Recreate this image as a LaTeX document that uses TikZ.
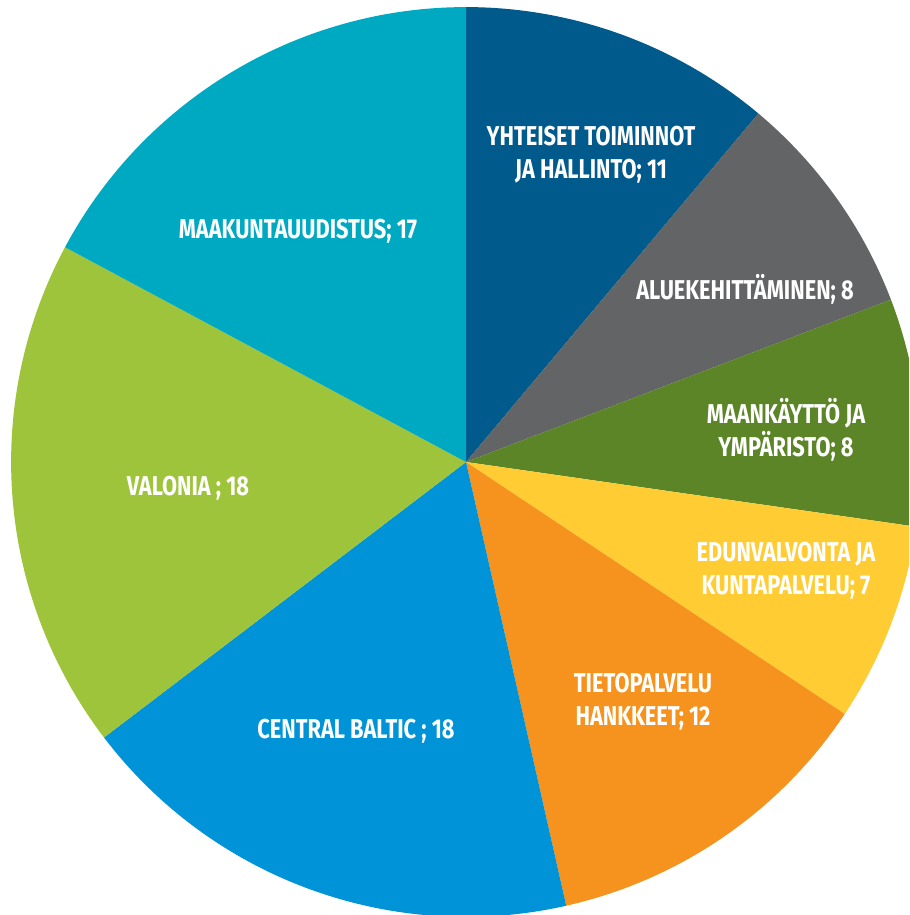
\documentclass[tikz,border=0pt]{standalone}
\usepackage{fontspec}
\setmainfont{Fira Sans}[FakeStretch=0.8]
\usepackage{tikz}
\definecolor{yhteiset}{HTML}{005A8C}
\definecolor{alue}{HTML}{636466}
\definecolor{maankaytto}{HTML}{5B8527}
\definecolor{edunv}{HTML}{FFCD33}
\definecolor{tieto}{HTML}{F6931E}
\definecolor{central}{HTML}{0093D7}
\definecolor{valonia}{HTML}{9EC43B}
\definecolor{maakunta}{HTML}{00A9C2}
\tikzset{
  lab/.style={text=white, font=\bfseries\fontsize{15.5}{19}\selectfont, align=center, inner sep=0pt},
}

\begin{document}
\begin{tikzpicture}[x=0.02cm,y=-0.02cm]
  \useasboundingbox (0,0) rectangle (909,915);
  \def\r{9.1cm}
  \coordinate (O) at (466,462);

  % slices, clockwise from the top
  \begin{scope}
    \clip (0,0) rectangle (909,915);
    \foreach \s/\e/\c in {0/11/yhteiset, 11/19/alue, 19/27/maankaytto, 27/34/edunv,
                          34/46/tieto, 46/64/central, 64/82/valonia, 82/99/maakunta}
      \fill[\c] (O) -- ++({90-360/99*\s}:\r)
        arc[start angle={90-360/99*\s}, end angle={90-360/99*\e}, radius=\r] -- cycle;
  \end{scope}

  % labels
  \node[lab] (yhteisetlab) at (591,155) {YHTEISET TOIMINNOT\\JA HALLINTO; 11};
  \node[lab] (aluelab) at (745,289.5) {ALUEKEHITTÄMINEN; 8};
  \node[lab] (maankayttolab) at (786,430) {MAANKÄYTTÖ JA\\YMPÄRISTO; 8};
  \node[lab] (edunvlab) at (786,571) {EDUNVALVONTA JA\\KUNTAPALVELU; 7};
  \node[lab] (tietolab) at (643,702) {TIETOPALVELU\\HANKKEET; 12};
  \node[lab] (centrallab) at (356,731.5) {CENTRAL BALTIC ; 18};
  \node[lab] (valonialab) at (188,488.5) {VALONIA ; 18};
  \node[lab] (maakuntalab) at (298,231.5) {MAAKUNTAUUDISTUS; 17};
\end{tikzpicture}
\end{document}
